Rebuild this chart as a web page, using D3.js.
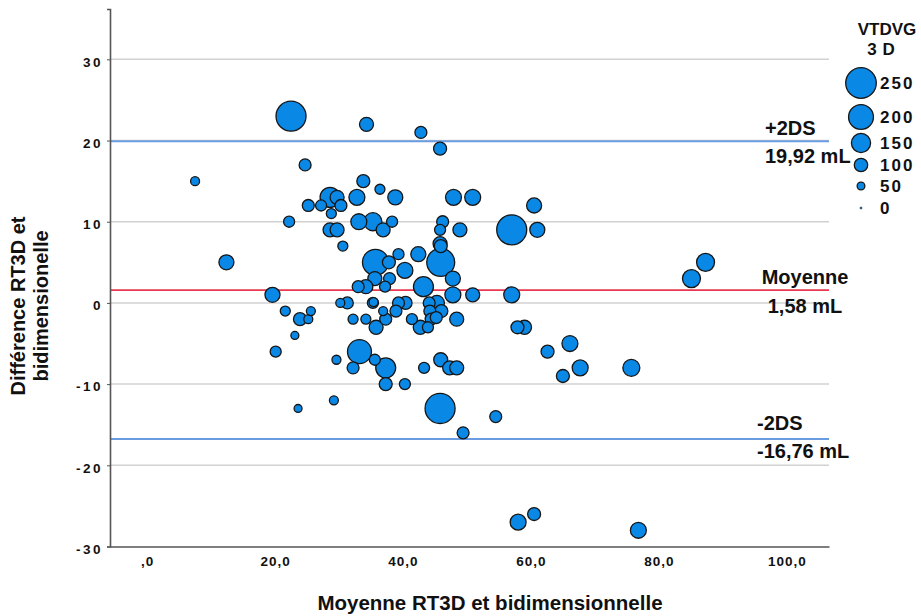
<!DOCTYPE html>
<html>
<head>
<meta charset="utf-8">
<script src="https://cdn.jsdelivr.net/npm/d3@7"></script>
<style>
  html, body { margin: 0; padding: 0; background: #fff; }
  svg { display: block; font-family: "Liberation Sans", Arial, sans-serif; }
</style>
</head>
<body>
<svg id="chart" width="921" height="616"></svg>
<script>
// Bland–Altman data: mean of the two methods (x), difference RT3D − 2D (y), VTDVG 3D volume (bubble size)
const meanRT3D = [
  22.5, 34.3, 42.8, 45.8, 24.7, 7.5, 33.8, 36.4, 32.8, 38.8,
  47.9, 50.9, 28.6, 29.7, 25.2, 27.2, 30.3, 28.8, 22.2, 28.6,
  29.7, 30.6, 33.1, 35.3, 36.9, 38.3, 46.2, 45.8, 48.9, 45.8,
  45.9, 60.5, 57.0, 61.0, 12.4, 35.7, 37.8, 39.3, 42.4, 45.9,
  40.3, 47.8, 35.6, 37.9, 33.0, 34.2, 37.2, 43.2, 47.8, 50.9,
  57.0, 19.6, 85.1, 87.3, 30.2, 31.3, 35.3, 35.4, 39.3, 40.4,
  44.1, 45.3, 21.6, 23.9, 25.2, 25.6, 23.1, 20.1, 32.2, 34.2,
  35.8, 36.9, 37.3, 38.9, 41.4, 42.7, 43.9, 44.2, 44.4, 45.2,
  46.0, 48.4, 57.9, 59.0, 62.6, 66.1, 65.0, 67.7, 75.7, 33.2,
  29.6, 32.2, 35.6, 37.3, 37.3, 40.3, 43.3, 45.9, 47.3, 48.4,
  29.2, 23.6, 45.8, 54.5, 49.4, 58.0, 60.5, 76.8
];
const diffRT3D = [
  23, 22, 21, 19, 17, 15, 15, 14, 13, 13,
  13, 13, 13, 13, 12, 12, 12, 11, 10, 9,
  9, 7, 10, 10, 9, 10, 10, 9, 9, 7.3,
  7, 12, 9, 9, 5, 5, 5, 6, 6, 5,
  4, 3, 3, 3, 2, 2, 2, 2, 1, 1,
  1, 1, 3, 5, 0, 0, 0, 0.1, 0, 0,
  0, 0, -1, -2, -2, -1, -4, -6, -2, -2,
  -3, -1, -2, -1, -2, -3, -3, -1, -2, -1.8,
  -1, -2, -3, -3, -6, -5, -9, -8, -8, -6,
  -7, -8, -7, -8, -10, -10, -8, -7, -8, -8,
  -12, -13, -13, -14, -16, -27, -26, -28
];
const vtdvg3D = [
  245, 105, 87, 96, 87, 61, 96, 70, 122, 114,
  122, 122, 157, 105, 87, 79, 87, 70, 79, 105,
  105, 70, 122, 140, 105, 79, 87, 79, 105, 105,
  96, 114, 245, 114, 114, 210, 96, 79, 114, 227,
  122, 114, 105, 87, 87, 105, 79, 157, 122, 105,
  122, 114, 140, 140, 61, 87, 79, 61, 87, 96,
  87, 114, 70, 96, 61, 61, 52, 79, 70, 70,
  105, 61, 87, 87, 79, 105, 79, 87, 87, 87,
  96, 105, 96, 105, 96, 122, 96, 122, 131, 192,
  61, 87, 79, 157, 96, 79, 79, 105, 105, 105,
  61, 52, 245, 87, 87, 122, 96, 122
];

// Axis ticks and reference lines
const xTicks = [0, 20, 40, 60, 80, 100];
const yTicks = [-30, -20, -10, 0, 10, 20, 30];
const meanDiff = 1.58;
const upperLoA = 19.92;
const lowerLoA = -16.76;
const legendValues = [250, 200, 150, 100, 50, 0];

// French decimal comma, plain hyphen for negatives
const hyphen = s => s.replace("\u2212", "-");
const fmtX = d => d === 0 ? ",0" : d3.format(".1f")(d).replace(".", ",");
const fmtY = d => hyphen(d3.format("d")(d));
const fmtMl = d => hyphen(d3.format(".2f")(d)).replace(".", ",") + " mL";

const svg = d3.select("#chart");

const x = d3.scaleLinear().domain([-5.8, 106.6]).range([110, 829]);
const y = d3.scaleLinear().domain([-30, 36.2]).range([546.5, 9]);
const r = d3.scaleLinear().domain([0, 250]).range([1, 15.3]);

const bubbleFill = "#0a88e6";
const bubbleStroke = "#161616";

// Horizontal gridlines
svg.append("g")
  .selectAll("line")
  .data(yTicks.filter(d => d !== -30))
  .join("line")
  .attr("x1", x.range()[0]).attr("x2", x.range()[1])
  .attr("y1", d => y(d)).attr("y2", d => y(d))
  .attr("stroke", "#d2d2d2").attr("stroke-width", 1.5);

// Limits of agreement and mean difference
const refLines = [
  { v: upperLoA, color: "#6a9ce2", w: 2 },
  { v: lowerLoA, color: "#6a9ce2", w: 2 },
  { v: meanDiff, color: "#e8384f", w: 1.6 }
];
svg.append("g")
  .selectAll("line")
  .data(refLines)
  .join("line")
  .attr("x1", x.range()[0]).attr("x2", x.range()[1])
  .attr("y1", d => y(d.v)).attr("y2", d => y(d.v))
  .attr("stroke", d => d.color).attr("stroke-width", d => d.w);

// Bubbles, largest first so small ones stay visible
const points = meanRT3D.map((m, i) => ({ m, d: diffRT3D[i], v: vtdvg3D[i] }))
  .sort((a, b) => b.v - a.v);
svg.append("g")
  .selectAll("circle")
  .data(points)
  .join("circle")
  .attr("cx", p => x(p.m))
  .attr("cy", p => y(p.d))
  .attr("r", p => r(p.v))
  .attr("fill", bubbleFill)
  .attr("stroke", bubbleStroke)
  .attr("stroke-width", 1.3);

// Axes
const yAxis = svg.append("g")
  .attr("transform", `translate(${x.range()[0]},0)`)
  .call(d3.axisLeft(y).tickValues(yTicks).tickSize(3).tickFormat(fmtY));
const xAxis = svg.append("g")
  .attr("transform", `translate(0,${y.range()[0]})`)
  .call(d3.axisBottom(x).tickValues(xTicks).tickSize(0).tickFormat(fmtX));

[yAxis, xAxis].forEach(g => {
  g.select(".domain").attr("stroke", "#555").attr("stroke-width", 1.6);
  g.selectAll(".tick line").attr("stroke", "#555");
  g.selectAll("text")
    .attr("fill", "#111")
    .style("font-family", "'Liberation Sans', Arial, sans-serif")
    .style("font-weight", "bold")
    .style("font-size", "13.5px");
});
yAxis.selectAll("text")
  .attr("x", -7)
  .attr("dy", "0.5em")
  .style("letter-spacing", "2.5px");
xAxis.selectAll("text")
  .attr("y", 10)
  .attr("dy", "0.71em")
  .style("letter-spacing", "1px");

// Axis titles
svg.append("text")
  .attr("x", 490).attr("y", 610)
  .attr("text-anchor", "middle")
  .style("font-weight", "bold").style("font-size", "20.5px")
  .attr("fill", "#111")
  .text("Moyenne RT3D et bidimensionnelle");

const yTitle = svg.append("text")
  .attr("transform", "translate(0,306) rotate(-90)")
  .attr("text-anchor", "middle")
  .style("font-weight", "bold").style("font-size", "20px")
  .attr("fill", "#111");
yTitle.append("tspan").attr("x", 0).attr("y", 25).text("Différence RT3D et");
yTitle.append("tspan").attr("x", 0).attr("y", 48).text("bidimensionelle");

// Reference line annotations
const notes = [
  { t: "+2DS", v: upperLoA, dy: -6, x: 765, anchor: "start" },
  { t: fmtMl(upperLoA), v: upperLoA, dy: 22, x: 765, anchor: "start" },
  { t: "Moyenne", v: meanDiff, dy: -6, x: 805, anchor: "middle" },
  { t: fmtMl(meanDiff), v: meanDiff, dy: 23, x: 805, anchor: "middle" },
  { t: "-2DS", v: lowerLoA, dy: -9, x: 757, anchor: "start" },
  { t: fmtMl(lowerLoA), v: lowerLoA, dy: 19, x: 757, anchor: "start" }
];
svg.append("g")
  .selectAll("text")
  .data(notes)
  .join("text")
  .attr("x", d => d.x)
  .attr("y", d => y(d.v) + d.dy)
  .attr("text-anchor", d => d.anchor)
  .style("font-weight", "bold").style("font-size", "20px")
  .attr("fill", "#111")
  .text(d => d.t);

// Size legend
const legend = svg.append("g");
const legTitle = legend.append("text")
  .attr("text-anchor", "middle")
  .style("font-weight", "bold").style("font-size", "17px")
  .attr("fill", "#111");
legTitle.append("tspan").attr("x", 887).attr("y", 35).text("VTDVG");
legTitle.append("tspan").attr("x", 884).attr("y", 55).style("letter-spacing", "6px").text("3D");

const legendY = d3.scaleOrdinal().domain(legendValues).range([83, 117, 143, 165, 186, 208]);
const items = legend.selectAll("g.item")
  .data(legendValues)
  .join("g")
  .attr("class", "item")
  .attr("transform", d => `translate(861,${legendY(d)})`);
items.append("circle")
  .attr("r", d => r(d))
  .attr("fill", bubbleFill)
  .attr("stroke", bubbleStroke)
  .attr("stroke-width", d => d === 0 ? 0.6 : 1.3);
items.append("text")
  .attr("x", 19).attr("dy", "0.36em")
  .style("font-weight", "bold").style("font-size", "17px")
  .style("letter-spacing", "2px")
  .attr("fill", "#111")
  .text(d => d);
</script>
</body>
</html>
